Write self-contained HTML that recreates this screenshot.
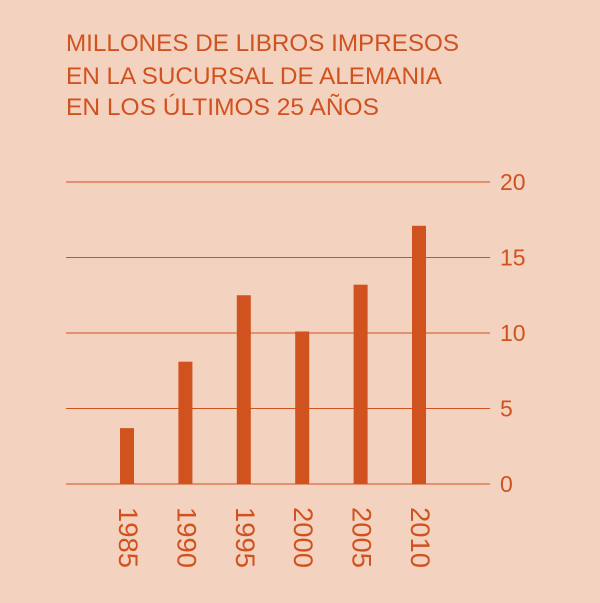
<!DOCTYPE html>
<html><head><meta charset="utf-8">
<style>
html,body{margin:0;padding:0;background:#f3d3c0;}
svg{display:block;font-family:"Liberation Sans",sans-serif;}
</style></head>
<body>
<svg id="chart" width="600" height="603" viewBox="0 0 600 603">
  <rect width="600" height="603" fill="#f3d3c0"/>
  <g fill="#d0521f" font-size="24">
    <text x="66" y="51" textLength="393" lengthAdjust="spacingAndGlyphs">MILLONES DE LIBROS IMPRESOS</text>
    <text x="66" y="84" textLength="376" lengthAdjust="spacingAndGlyphs">EN LA SUCURSAL DE ALEMANIA</text>
    <text x="66" y="115" textLength="313" lengthAdjust="spacingAndGlyphs">EN LOS ÚLTIMOS 25 AÑOS</text>
  </g>
  <g id="grid"></g>
  <g id="bars"></g>
  <g id="xlabels"></g>
</svg>
<script>
const categories = ["1985","1990","1995","2000","2005","2010"];
const values = [3.7, 8.1, 12.5, 10.1, 13.2, 17.1];
const yTicks = [0, 5, 10, 15, 20];

const NS = "http://www.w3.org/2000/svg";
const C = "#d0521f";
function y(v){ return 484 - v * (302/20); }
function x(i){ return 127 + i * 58.4; }

const grid = document.getElementById("grid");
yTicks.forEach(t => {
  const l = document.createElementNS(NS, "line");
  l.setAttribute("x1", 66); l.setAttribute("x2", 490);
  l.setAttribute("y1", y(t)); l.setAttribute("y2", y(t));
  l.setAttribute("stroke", C); l.setAttribute("stroke-width", 1);
  
  
  grid.appendChild(l);
  const tx = document.createElementNS(NS, "text");
  tx.setAttribute("x", 500); tx.setAttribute("y", y(t) + 8);
  tx.setAttribute("fill", C); tx.setAttribute("font-size", "23");
  tx.textContent = t;
  
  
  grid.appendChild(tx);
});

const bars = document.getElementById("bars");
const xl = document.getElementById("xlabels");
categories.forEach((c, i) => {
  const r = document.createElementNS(NS, "rect");
  r.setAttribute("x", x(i) - 7); r.setAttribute("width", 14);
  r.setAttribute("y", y(values[i])); r.setAttribute("height", y(0) - y(values[i]));
  r.setAttribute("fill", C);
  
  
  bars.appendChild(r);
  const t = document.createElementNS(NS, "text");
  t.setAttribute("transform", "translate(" + (x(i) - 8) + ",507) rotate(90)");
  t.setAttribute("fill", C); t.setAttribute("font-size", "27");
  t.setAttribute("textLength", "61"); t.setAttribute("lengthAdjust", "spacingAndGlyphs");
  t.textContent = c;
  
  
  xl.appendChild(t);
});
</script>
</body></html>
